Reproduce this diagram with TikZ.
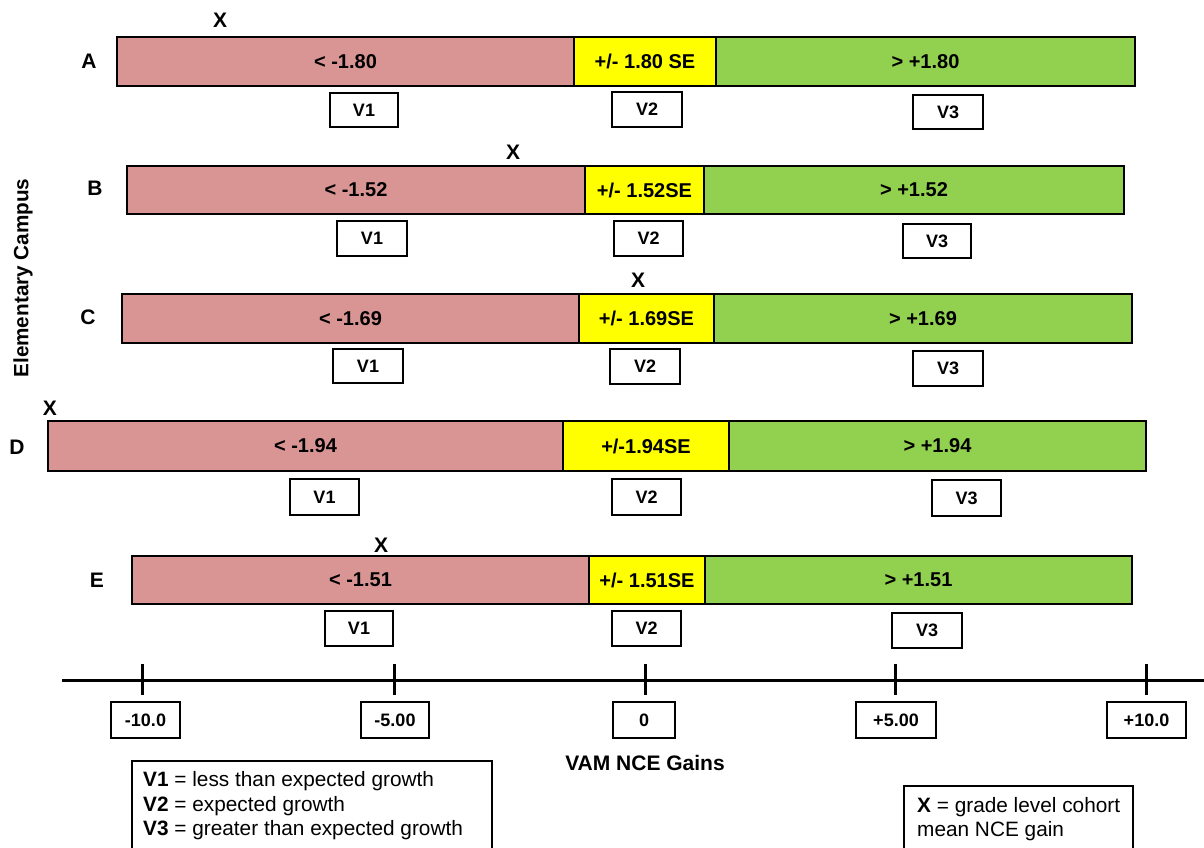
\documentclass[tikz,border=0pt]{standalone}
\usepackage{fontspec}
\setmainfont{Liberation Sans}
\usetikzlibrary{fit}
\definecolor{vred}{RGB}{217,149,148}
\definecolor{vyel}{RGB}{255,255,0}
\definecolor{vgrn}{RGB}{146,208,80}
\tikzset{
  seg/.style={draw=black, line width=2.6pt, inner sep=0pt, outer sep=0pt},
  segtxt/.style={inner sep=0pt, font=\fontsize{20}{24}\selectfont\bfseries},
  vbx/.style={draw=black, line width=2.2pt, fill=white, inner sep=0pt, outer sep=0pt},
  vtxt/.style={inner sep=0pt, font=\fontsize{18}{22}\selectfont\bfseries},
  rowlab/.style={inner sep=0pt, font=\fontsize{21}{24}\selectfont\bfseries},
  xmark/.style={inner sep=0pt, font=\fontsize{21}{24}\selectfont\bfseries},
  legbox/.style={draw=black, line width=2.2pt, fill=white, inner sep=0pt},
  legtxt/.style={inner sep=0pt, anchor=base west, font=\fontsize{20.8}{24}\selectfont},
  axisline/.style={draw=black, line width=3pt},
  boldlab/.style={inner sep=0pt, font=\fontsize{21}{24}\selectfont\bfseries}
}
\newcommand\segrow[9]{%
  \node[seg, fill=vred, fit={(#2,#6) (#3,#7)}] (#1r) {};
  \node[seg, fill=vyel, fit={(#3,#6) (#4,#7)}] (#1y) {};
  \node[seg, fill=vgrn, fit={(#4,#6) (#5,#7)}] (#1g) {};
  \node[segtxt] (#1rt) at (#1r.center) {< -#8};
  \node[segtxt] (#1yt) at (#1y.center) {#9};
  \node[segtxt] (#1gt) at (#1g.center) {> +#8};
}
\newcommand\valbox[6]{%
  \node[vbx, fit={(#2,#4) (#3,#5)}] (#1) {};
  \node[vtxt] (#1t) at (#1.center) {#6};
}
\begin{document}
\begin{tikzpicture}[x=1pt,y=-1pt]
\useasboundingbox (0,0) rectangle (1204,848);

% y-axis label
\node[boldlab, font=\fontsize{20.7}{24}\selectfont\bfseries, rotate=90] (ylab) at (23,278) {Elementary Campus};

% Row A
\node[rowlab] (labA) at (89,61) {A};
\node[xmark] (xA) at (220,20) {X};
\segrow{A}{117}{574}{716}{1135}{37}{86}{1.80}{+/- 1.80 SE}
\valbox{AV1}{330}{398}{93}{127}{V1}
\valbox{AV2}{612}{682}{92}{127}{V2}
\valbox{AV3}{913}{983}{95}{129}{V3}

% Row B
\node[rowlab] (labB) at (95,188) {B};
\node[xmark] (xB) at (513,152) {X};
\segrow{B}{127}{585}{704}{1124}{166}{214}{1.52}{+/- 1.52SE}
\valbox{BV1}{337}{407}{221}{256}{V1}
\valbox{BV2}{614}{683}{221}{256}{V2}
\valbox{BV3}{903}{971}{224}{258}{V3}

% Row C
\node[rowlab] (labC) at (88,317) {C};
\node[xmark] (xC) at (638,280) {X};
\segrow{C}{122}{579}{714}{1132}{294}{343}{1.69}{+/- 1.69SE}
\valbox{CV1}{333}{403}{349}{383}{V1}
\valbox{CV2}{610}{680}{349}{384}{V2}
\valbox{CV3}{913}{983}{351}{386}{V3}

% Row D
\node[rowlab] (labD) at (17,447) {D};
\node[xmark] (xD) at (50,408) {X};
\segrow{D}{48}{563}{729}{1146}{421}{471}{1.94}{+/-1.94SE}
\valbox{DV1}{290}{359}{479}{515}{V1}
\valbox{DV2}{612}{681}{479}{515}{V2}
\valbox{DV3}{932}{1001}{480}{516}{V3}

% Row E
\node[rowlab] (labE) at (97,580) {E};
\node[xmark] (xE) at (381,545) {X};
\segrow{E}{132}{589}{705}{1132}{556}{604}{1.51}{+/- 1.51SE}
\valbox{EV1}{325}{393}{611}{646}{V1}
\valbox{EV2}{612}{681}{611}{646}{V2}
\valbox{EV3}{892}{962}{613}{648}{V3}

% axis
\coordinate (axL) at (62,680);
\coordinate (axR) at (1206,680);
\draw[axisline] (axL) -- (axR);
\foreach \i/\x in {1/142,2/394,3/645,4/895,5/1146}{
  \coordinate (t\i a) at (\x,664);
  \coordinate (t\i b) at (\x,695);
  \draw[axisline] (t\i a) -- (t\i b);
}
\valbox{k1}{111}{180}{702}{738}{-10.0}
\valbox{k2}{361}{429}{702}{738}{-5.00}
\valbox{k3}{613}{675}{702}{738}{0}
\valbox{k4}{856}{936}{702}{738}{+5.00}
\valbox{k5}{1107}{1186}{702}{738}{+10.0}

\node[boldlab] (xlab) at (645,763) {VAM NCE Gains};

% legends
\node[legbox, fit={(132,761) (492,853)}] (leg1) {};
\node[legtxt] (l1) at (143,786) {\textbf{V1} = less than expected growth};
\node[legtxt] (l2) at (143,811) {\textbf{V2} = expected growth};
\node[legtxt] (l3) at (143,835) {\textbf{V3} = greater than expected growth};

\node[legbox, fit={(904,786) (1133,853)}] (leg2) {};
\node[legtxt] (l4) at (917,812) {\textbf{X} = grade level cohort};
\node[legtxt] (l5) at (917,836) {mean NCE gain};
\end{tikzpicture}
\end{document}
